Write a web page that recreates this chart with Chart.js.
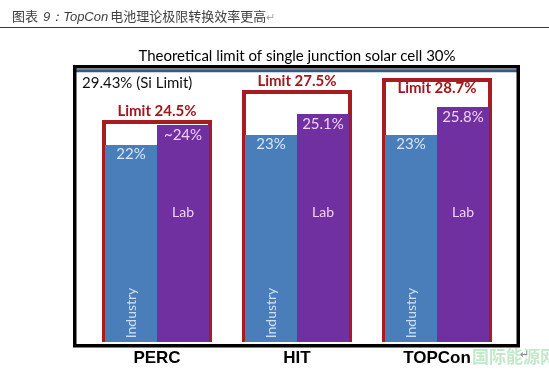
<!DOCTYPE html>
<html>
<head>
<meta charset="utf-8">
<script src="https://cdn.jsdelivr.net/npm/chart.js@4"></script>
<style>
  body { margin: 0; background: #fff; }
  #wrap { position: relative; width: 549px; height: 371px; overflow: hidden; }
  #head { position: absolute; left: 12px; top: 6px; font: 13px "Noto Sans CJK SC", sans-serif; color: #404040; white-space: nowrap; }
  #head i { font-family: "Liberation Sans", sans-serif; margin: 0 2px; }
  .mark { color: #aaa; font-size: 11px; }
  #rule { position: absolute; left: 0; right: 0; top: 27px; height: 1px; background: #3a3a3a; }
  #wm { position: absolute; left: 472px; top: 343px; font: bold 17px "Noto Sans CJK SC", sans-serif; color: rgba(120, 205, 140, 0.45); white-space: nowrap; }
  #ret { position: absolute; left: 520px; top: 348px; font-size: 11px; color: #888; }
  canvas { position: absolute; left: 0; top: 0; }
</style>
</head>
<body>
<div id="wrap">
  <canvas id="chart" width="549" height="371"></canvas>
  <div id="head">图表 <i>9：TopCon</i>电池理论极限转换效率更高<span class="mark">↵</span></div>
  <div id="rule"></div>
  <div id="wm">国际能源网</div>
  <div id="ret">↵</div>
</div>
<script>
const categories = ["PERC", "HIT", "TOPCon"];
const industry = [22, 23, 23];
const industryText = ["22%", "23%", "23%"];
const lab = [24, 25.1, 25.8];
const labText = ["~24%", "25.1%", "25.8%"];
const limits = [24.5, 27.5, 28.7];
const limitText = ["Limit 24.5%", "Limit 27.5%", "Limit 28.7%"];
const siLimit = 29.43;
const siText = "29.43% (Si Limit)";
const theoretical = 30;
const titleText = "Theoretical limit of single junction solar cell 30%";

// labels, frame and Si line on top of the bars
const overlay = {
  id: "overlay",
  afterDatasetsDraw(chart) {
    const { ctx, chartArea: a, scales: { y } } = chart;
    const siY = y.getPixelForValue(siLimit);
    ctx.save();

    ctx.strokeStyle = "#36598a";
    ctx.lineWidth = 3;
    ctx.beginPath();
    ctx.moveTo(a.left - 11, siY);
    ctx.lineTo(a.right + 10, siY);
    ctx.stroke();

    ctx.strokeStyle = "#000";
    ctx.lineWidth = 3.5;
    ctx.strokeRect(a.left - 12.25, a.top + 1.75, a.width + 23.5, a.height + 2);

    ctx.textBaseline = "middle";
    ctx.textAlign = "left";
    ctx.fillStyle = "#111";
    ctx.font = "15px Lato";
    ctx.fillText(siText, a.left - 5, siY + 12);

    const indMeta = chart.getDatasetMeta(0);
    const labMeta = chart.getDatasetMeta(1);
    const limMeta = chart.getDatasetMeta(2);
    ctx.textAlign = "center";
    categories.forEach((c, i) => {
      const ib = indMeta.data[i];
      const lb = labMeta.data[i];
      const mb = limMeta.data[i];

      ctx.font = "15px Lato";
      ctx.fillStyle = "#d8e6f6";
      ctx.fillText(industryText[i], ib.x, ib.y + 9);
      ctx.fillStyle = "#f2d2f2";
      ctx.fillText(labText[i], lb.x, lb.y + 10);

      ctx.font = "14px Lato";
      ctx.fillText(chart.data.datasets[1].label, lb.x, a.bottom - 130);

      ctx.save();
      ctx.translate(ib.x, a.bottom - 29);
      ctx.rotate(-Math.PI / 2);
      ctx.font = "14px Lato";
      ctx.fillStyle = "#cfe0f2";
      ctx.fillText(chart.data.datasets[0].label, 0, 0);
      ctx.restore();

      // limit label above the box, or inside when it would hit the Si line
      let ly = mb.y - 9;
      if (ly - 8 < siY) ly = mb.y + 10;
      ctx.font = "bold 15px Lato";
      ctx.fillStyle = "#a3161c";
      ctx.fillText(limitText[i], mb.x, ly);
    });
    ctx.restore();
  }
};

new Chart(document.getElementById("chart").getContext("2d"), {
  type: "bar",
  data: {
    labels: categories,
    datasets: [
      {
        label: "Industry",
        data: industry,
        backgroundColor: "#4a7ebb",
        categoryPercentage: 0.743,
        barPercentage: 1
      },
      {
        label: "Lab",
        data: lab,
        backgroundColor: "#7030a0",
        categoryPercentage: 0.743,
        barPercentage: 1
      },
      {
        label: "Limit",
        data: limits,
        grouped: false,
        backgroundColor: "rgba(0,0,0,0)",
        borderColor: "#a61c20",
        borderWidth: 4,
        categoryPercentage: 1,
        barPercentage: 0.786
      }
    ]
  },
  options: {
    responsive: false,
    animation: false,
    layout: { padding: { top: 47, left: 87, right: 42, bottom: 0 } },
    plugins: {
      legend: { display: false },
      tooltip: { enabled: false },
      title: {
        display: true,
        text: titleText,
        color: "#000",
        font: { family: "Lato", size: 15, weight: "normal", lineHeight: 1.2 },
        padding: { top: 0, bottom: 0 }
      }
    },
    scales: {
      x: {
        grid: { display: false, drawTicks: false },
        border: { display: false },
        ticks: {
          color: "#000",
          padding: 6,
          font: { family: "Liberation Sans", size: 17, weight: "bold" }
        },
        afterFit(s) { s.height = 29; }
      },
      y: {
        display: false,
        min: 2.3,
        max: theoretical
      }
    }
  },
  plugins: [overlay]
});
</script>
</body>
</html>
